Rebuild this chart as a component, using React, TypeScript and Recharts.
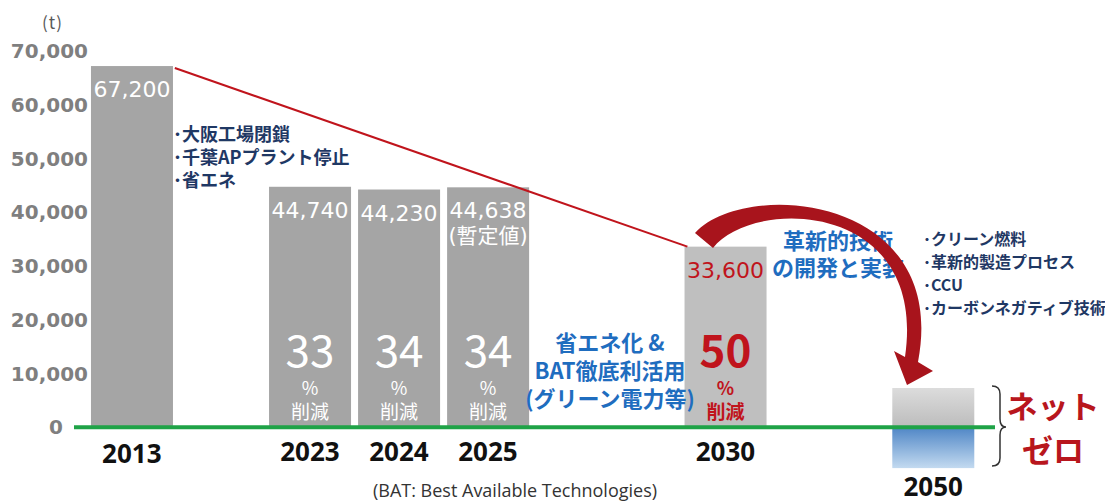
import React from 'react';
import { BarChart, Bar, XAxis, YAxis, ReferenceLine, Customized } from 'recharts';

// category slots (gaps keep the uneven spacing of the original slide)
const categories = [
  '2013', '_1', '_2', '_3', '_4', '_5',
  '2023', '_6', '_7',
  '2024', '_8', '_9',
  '2025', '_10', '_11', '_12', '_13', '_14', '_15', '_16',
  '2030', '_17', '_18', '_19', '_20', '_21', '_22',
  '2050',
];

const years = ['2013', '2023', '2024', '2025', '2030'];
const emissions = [67200, 44740, 44230, 44638, 33600];
const reductionPct: (number | null)[] = [null, 33, 34, 34, 50];
const valueNotes = ['', '', '', '(暫定値)', ''];
const targetYear = '2030';

const netZeroYear = '2050';
const netZeroPositive = 7300;
const netZeroNegative = -7600;

const yTicks = [0, 10000, 20000, 30000, 40000, 50000, 60000, 70000];

const closureNotes = ['･大阪工場閉鎖', '･千葉APプラント停止', '･省エネ'];
const measureNotes = ['省エネ化 &', 'BAT徹底利活用', '(グリーン電力等)'];
const innovationNotes = ['革新的技術', 'の開発と実装'];
const techNotes = ['･クリーン燃料', '･革新的製造プロセス', '･CCU', '･カーボンネガティブ技術'];
const netZeroLabel = ['ネット', 'ゼロ'];

const data = categories.map(name => {
  const i = years.indexOf(name);
  return {
    name,
    value: i >= 0 ? emissions[i] : null,
    pct: i >= 0 ? reductionPct[i] : null,
    note: i >= 0 ? valueNotes[i] : '',
    netPos: name === netZeroYear ? netZeroPositive : null,
    netNeg: name === netZeroYear ? netZeroNegative : null,
  };
});

const BAR_W = 82;
const RED = '#c0141c';
const NAVY = '#1f3864';
const BLUE = '#1f6dbf';
const JP = '"Noto Sans CJK JP", sans-serif';
const NUM = '"DejaVu Sans", "Noto Sans CJK JP", sans-serif';

function EmissionBar(props: any) {
  const { x, y, width, height, payload } = props;
  if (payload.value == null || !height) return <g />;
  const cx = x + width / 2;
  const top = Math.min(y, y + height);
  const bottom = Math.max(y, y + height);
  const isTarget = payload.name === targetYear;
  const color = isTarget ? RED : '#ffffff';
  return (
    <g>
      <rect x={cx - BAR_W / 2} y={top} width={BAR_W} height={bottom - top} fill={isTarget ? '#bfbfbf' : '#a5a5a5'} />
      <text x={cx} y={top + 31} textAnchor="middle" fill={color} fontSize={22} fontFamily={NUM}>
        {payload.value.toLocaleString('en-US')}
      </text>
      {payload.note && (
        <text x={cx} y={top + 56} textAnchor="middle" fill={color} fontSize={21} fontFamily={NUM}>
          {payload.note}
        </text>
      )}
      {payload.pct != null && (
        <g fill={color} fontFamily={JP} textAnchor="middle" fontWeight={isTarget ? 700 : 400}>
          <text x={cx} y={bottom - 60} fontSize={44}>{payload.pct}</text>
          <text x={cx} y={bottom - 32} fontSize={18}>%</text>
          <text x={cx} y={bottom - 8} fontSize={19}>削減</text>
        </g>
      )}
    </g>
  );
}

function netBar(fillId: string) {
  return (props: any) => {
    const { x, y, width, height } = props;
    if (!height) return <g />;
    const cx = x + width / 2;
    const top = Math.min(y, y + height);
    return <rect x={cx - BAR_W / 2} y={top} width={BAR_W} height={Math.abs(height)} fill={`url(#${fillId})`} />;
  };
}

function YTick({ y, payload }: any) {
  return (
    <text x={payload.value === 0 ? 63 : 88} y={y + 7} textAnchor="end" fill="#7f7f7f" fontSize={20} fontWeight="bold" fontFamily={NUM}>
      {payload.value.toLocaleString('en-US')}
    </text>
  );
}

function XTick({ x, payload }: any) {
  const label = String(payload.value);
  if (label.startsWith('_')) return <g />;
  const baseline = label === netZeroYear ? 496 : label === '2013' ? 463 : 461;
  return (
    <text x={x} y={baseline} textAnchor="middle" fill="#111" fontSize={26} fontWeight="bold" fontFamily='"Noto Sans", sans-serif'>
      {label}
    </text>
  );
}

function TrendLine(props: any) {
  const { x1, y1, x2, y2 } = props;
  return <line x1={x1 + BAR_W / 2 + 2} y1={y1 + 2} x2={x2 - BAR_W / 2 + 3} y2={y2} stroke="#c0141c" strokeWidth={2} />;
}

function Gradients() {
  return (
    <defs>
      <linearGradient id="netTop" x1="0" y1="0" x2="0" y2="1">
        <stop offset="0%" stopColor="#dcdcdc" />
        <stop offset="100%" stopColor="#bcbcbc" />
      </linearGradient>
      <linearGradient id="netBottom" x1="0" y1="0" x2="0" y2="1">
        <stop offset="0%" stopColor="#4f86c6" />
        <stop offset="100%" stopColor="#c3daf0" />
      </linearGradient>
    </defs>
  );
}

// slide annotations, drawn above the bars
function Annotations() {
  return (
    <svg width={1105} height={501} style={{ position: 'absolute', left: 0, top: 0, pointerEvents: 'none' }}>
      <text x={42} y={29} fontSize={17} fill="#595959" fontFamily={JP} letterSpacing={1}>(t)</text>
      {closureNotes.map((t, i) => (
        <text key={t} x={173} y={141 + i * 23} fontSize={18} fontWeight="bold" fill={NAVY} fontFamily={JP}>{t}</text>
      ))}
      {measureNotes.map((t, i) => (
        <text key={t} x={610} y={351 + i * 28} textAnchor="middle" fontSize={22} fontWeight="bold" fill={BLUE} fontFamily={JP}>{t}</text>
      ))}
      {innovationNotes.map((t, i) => (
        <text key={t} x={838} y={249 + i * 27} textAnchor="middle" fontSize={22} fontWeight="bold" fill={BLUE} fontFamily={JP}>{t}</text>
      ))}
      {techNotes.map((t, i) => (
        <text key={t} x={923} y={245 + i * 23} fontSize={16} fontWeight="bold" fill={NAVY} fontFamily={JP}>{t}</text>
      ))}
      {netZeroLabel.map((t, i) => (
        <text key={t} x={1053} y={418 + i * 44} textAnchor="middle" fontSize={31} fontWeight="bold" fill="#b8161d" fontFamily={JP}>{t}</text>
      ))}
      <path
        d="M 992 386 Q 1000 386 1000 394 L 1000 419 Q 1000 427 1006 427 Q 1000 427 1000 435 L 1000 458 Q 1000 466 992 466"
        fill="none" stroke="#333" strokeWidth={1.5}
      />
      <path
        d="M 695 233 C 745 178 950 195 918 362 L 933 371 L 907 385 L 894 351 L 905 357 C 928 200 752 197 713 248 Z"
        fill="#a8141c"
      />
      <text x={515} y={497} textAnchor="middle" fontSize={18} fill="#333" fontFamily='"Open Sans", sans-serif'>
        (BAT: Best Available Technologies)
      </text>
    </svg>
  );
}

export default function App() {
  return (
    <div style={{ position: 'absolute', left: 0, top: 0, width: 1105, height: 501, background: '#fff' }}>
      <BarChart width={1105} height={501} data={data} stackOffset="sign" margin={{ top: 51, right: 110, bottom: 0, left: 0 }}>
        <Customized component={<Gradients />} />
        <YAxis
          type="number"
          domain={[-10000, 70000]}
          ticks={yTicks}
          width={74}
          axisLine={false}
          tickLine={false}
          tick={<YTick />}
        />
        <XAxis
          dataKey="name"
          height={20}
          interval={0}
          axisLine={false}
          tickLine={false}
          padding={{ left: 43, right: 47 }}
          tick={<XTick />}
        />
        <Bar dataKey="value" stackId="s" isAnimationActive={false} shape={EmissionBar} />
        <Bar dataKey="netPos" stackId="s" isAnimationActive={false} shape={netBar('netTop')} />
        <Bar dataKey="netNeg" stackId="s" isAnimationActive={false} shape={netBar('netBottom')} />
        <ReferenceLine y={0} stroke="#1fa347" strokeWidth={4} />
        <ReferenceLine
          segment={[{ x: '2013', y: emissions[0] }, { x: targetYear, y: emissions[4] }]}
          shape={TrendLine}
        />
      </BarChart>
      <Annotations />
    </div>
  );
}
